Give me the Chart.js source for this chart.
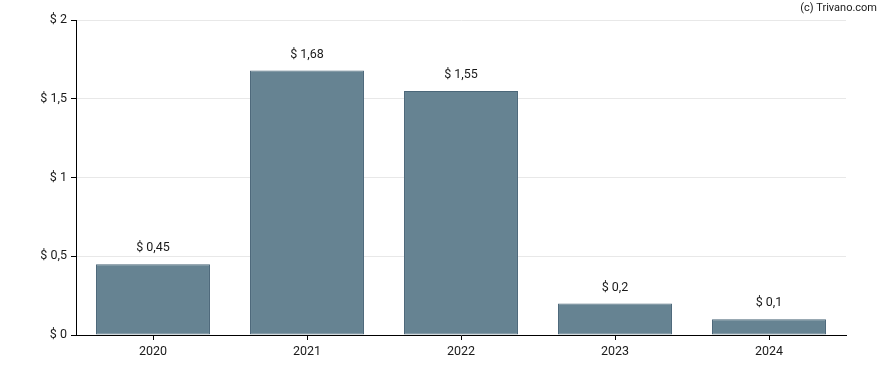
<!DOCTYPE html>
<html><head><meta charset="utf-8">
<script src="https://cdn.jsdelivr.net/npm/chart.js@4/dist/chart.umd.min.js"></script>
<style>html,body{margin:0;padding:0;background:#fff}#wrap{width:888px;height:370px}</style>
</head><body><div id="wrap"><canvas id="c" width="888" height="370"></canvas></div>
<script>
const categories = ["2020", "2021", "2022", "2023", "2024"];
const values = [0.45, 1.68, 1.55, 0.2, 0.1];
const yTicks = [0, 0.5, 1, 1.5, 2];
const fmt = v => "$ " + String(v).replace(".", ",");
const FONT = "Roboto, 'Liberation Sans', sans-serif";

const labelsPlugin = {
  id: "vlabels",
  afterDatasetsDraw(chart) {
    const ctx = chart.ctx;
    const meta = chart.getDatasetMeta(0);
    ctx.save();
    ctx.font = "12.5px " + FONT;
    ctx.fillStyle = "#1a1a1a";
    ctx.textAlign = "center";
    ctx.textBaseline = "middle";
    meta.data.forEach((bar, i) => {
      ctx.fillText(fmt(values[i]), bar.x, bar.y - 16);
    });
    ctx.restore();
  },
  afterDraw(chart) {
    const ctx = chart.ctx;
    ctx.save();
    ctx.font = "11px " + FONT;
    ctx.fillStyle = "#1a1a1a";
    ctx.textAlign = "right";
    ctx.textBaseline = "middle";
    ctx.fillText("(c) Trivano.com", 877, 8);
    ctx.restore();
  }
};

new Chart(document.getElementById("c"), {
  type: "bar",
  data: {
    labels: categories,
    datasets: [{
      data: values,
      backgroundColor: "#668392",
      borderColor: "#4b6779",
      borderWidth: 1,
      borderSkipped: false,
      categoryPercentage: 0.74,
      barPercentage: 1.0
    }]
  },
  options: {
    responsive: false,
    animation: false,
    layout: { padding: { top: 20, right: 42, left: 0, bottom: 0 } },
    plugins: { legend: { display: false }, tooltip: { enabled: false } },
    scales: {
      x: {
        afterFit(s) { s.height = 35; },
        grid: { offset: false, drawOnChartArea: false, drawTicks: true, tickLength: 5, tickColor: "#000" },
        border: { color: "#000", width: 1 },
        ticks: { color: "#1a1a1a", font: { family: FONT, size: 12.5 }, padding: 4 }
      },
      y: {
        min: 0, max: 2,
        afterFit(s) { s.width = 76; },
        afterBuildTicks(s) { s.ticks = yTicks.map(v => ({ value: v })); },
        grid: { color: "#e8e8e8", tickLength: 5, tickColor: "#000" },
        border: { color: "#000", width: 1 },
        ticks: { color: "#1a1a1a", font: { family: FONT, size: 12.5 }, padding: 4, callback: v => fmt(v) }
      }
    }
  },
  plugins: [labelsPlugin]
});
</script></body></html>
